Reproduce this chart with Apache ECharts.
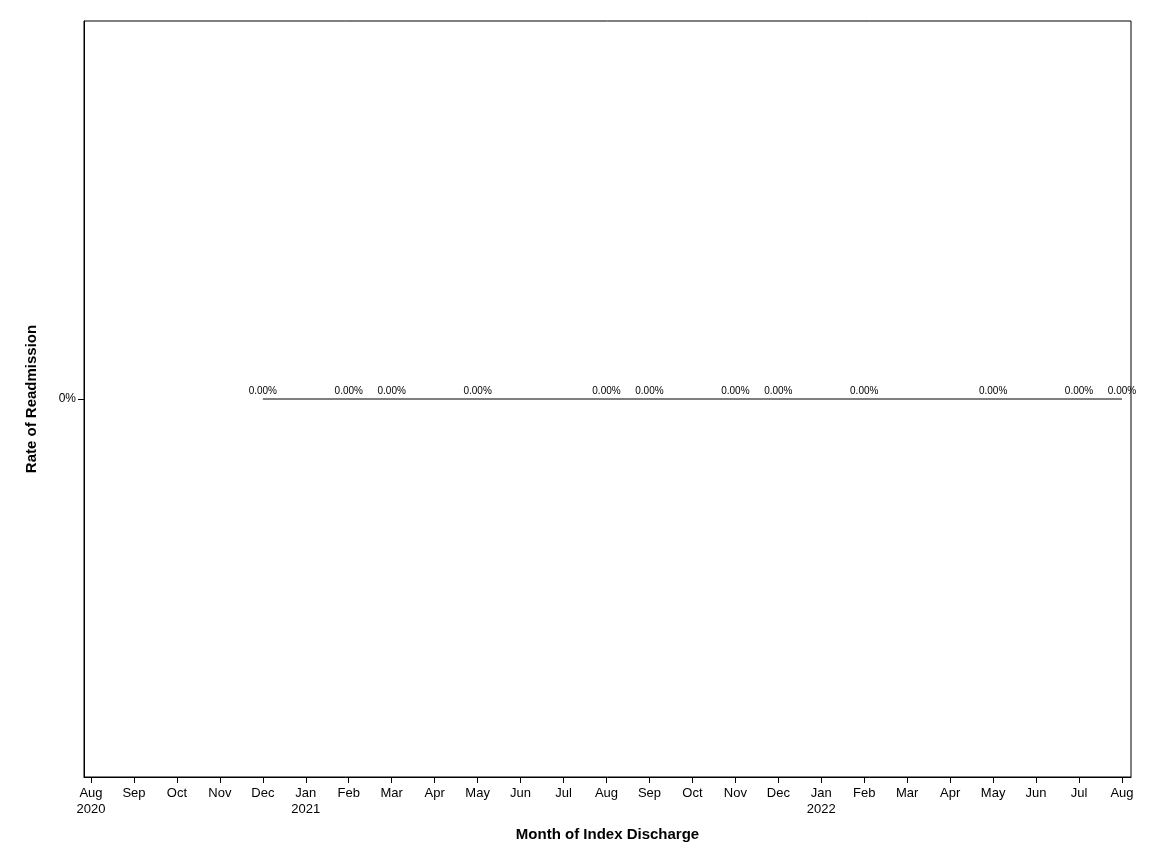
<!DOCTYPE html><html><head><meta charset="utf-8"><script src="https://cdn.jsdelivr.net/npm/echarts@6/dist/echarts.min.js"></script></head><body style="margin:0"><div id="c" style="width:1152px;height:864px"></div><script>
const tickLabels=['Aug\n2020','Sep','Oct','Nov','Dec','Jan\n2021','Feb','Mar','Apr','May','Jun','Jul','Aug','Sep','Oct','Nov','Dec','Jan\n2022','Feb','Mar','Apr','May','Jun','Jul','Aug'];
const monthIndex=[4,6,7,9,12,13,15,16,18,21,23,24];
const rates=[0,0,0,0,0,0,0,0,0,0,0,0];
const ticks=tickLabels.map((_,i)=>i);
const ch=echarts.init(document.getElementById('c'));
ch.setOption({animation:false,
grid:{left:84,right:21,top:21,bottom:87,show:true,borderColor:'#000',borderWidth:1},
xAxis:{type:'value',min:-0.163,max:24.21,name:'Month of Index Discharge',nameLocation:'middle',nameGap:50,
nameTextStyle:{fontFamily:'Liberation Sans',fontWeight:'bold',fontSize:15,color:'#000'},
axisLine:{onZero:false,lineStyle:{color:'#000'}},splitLine:{show:false},
axisTick:{customValues:ticks,length:6,lineStyle:{color:'#000'}},
axisLabel:{customValues:ticks,formatter:v=>tickLabels[Math.round(v)],fontFamily:'Liberation Sans',fontSize:13,color:'#000',lineHeight:16,margin:8}},
yAxis:{type:'value',min:-1,max:1,name:'Rate of Readmission',nameLocation:'middle',nameGap:45,
nameTextStyle:{fontFamily:'Liberation Sans',fontWeight:'bold',fontSize:15,color:'#000'},
axisLine:{onZero:false,lineStyle:{color:'#000'}},splitLine:{show:false},
axisTick:{customValues:[0],length:6,lineStyle:{color:'#000'}},
axisLabel:{customValues:[0],formatter:v=>(v*100).toFixed(0)+'%',fontFamily:'Liberation Sans',fontSize:12,color:'#000'}},
series:[{type:'line',data:monthIndex.map((m,i)=>[m,rates[i]]),symbol:'circle',symbolSize:0.1,showSymbol:true,itemStyle:{color:'#555'},lineStyle:{color:'#555',width:1.5},
label:{show:true,position:'top',distance:3,offset:[-20,0],formatter:p=>(p.value[1]*100).toFixed(2)+'%',fontFamily:'Liberation Sans',fontSize:10,color:'#000'},labelLayout:{hideOverlap:false}}]
});
</script></body></html>
